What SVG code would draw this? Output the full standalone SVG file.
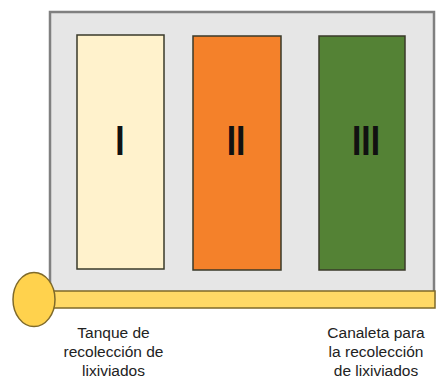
<svg xmlns="http://www.w3.org/2000/svg" width="436" height="378" viewBox="0 0 436 378">
<style>
.box{stroke:#3a3a2a;stroke-width:1.5}
.num{font-family:"Liberation Sans",Arial,sans-serif;font-weight:bold;font-size:42px;fill:#111;text-anchor:middle}
.lbl{font-family:"Liberation Sans",Arial,sans-serif;font-size:15.5px;fill:#222;text-anchor:middle}
</style>
<rect width="436" height="378" fill="#ffffff"/>
<g id="frame">
<rect x="50" y="12" width="384" height="286" fill="#e6e6e6" stroke="#808080" stroke-width="2.5"/>
</g>
<g id="node-I">
<rect class="box" x="77" y="35" width="87" height="234" fill="#fff2cc"/>
<text class="num" transform="translate(120 155) scale(0.8 1)">I</text>
</g>
<g id="node-II">
<rect class="box" x="193" y="36" width="88" height="234" fill="#f4812a"/>
<text class="num" transform="translate(236 155) scale(0.8 1)">II</text>
</g>
<g id="node-III">
<rect class="box" x="319" y="36" width="86" height="234" fill="#548235"/>
<text class="num" transform="translate(366 155) scale(0.8 1)">III</text>
</g>
<g id="connectors">
<rect x="50" y="291" width="385" height="17" fill="#ffd966" stroke="#7f6a2a" stroke-width="1.5"/>
</g>
<g id="tank">
<ellipse cx="34" cy="299.5" rx="21" ry="27" fill="#ffd24d" stroke="#7f6a2a" stroke-width="1.5"/>
</g>
<g id="label-tank">
<text class="lbl" x="113.5" y="338">Tanque de</text>
<text class="lbl" x="113.5" y="357">recolección de</text>
<text class="lbl" x="113.5" y="376">lixiviados</text>
</g>
<g id="label-canal">
<text class="lbl" x="376" y="338">Canaleta para</text>
<text class="lbl" x="376" y="357">la recolección</text>
<text class="lbl" x="376" y="376">de lixiviados</text>
</g>
</svg>
